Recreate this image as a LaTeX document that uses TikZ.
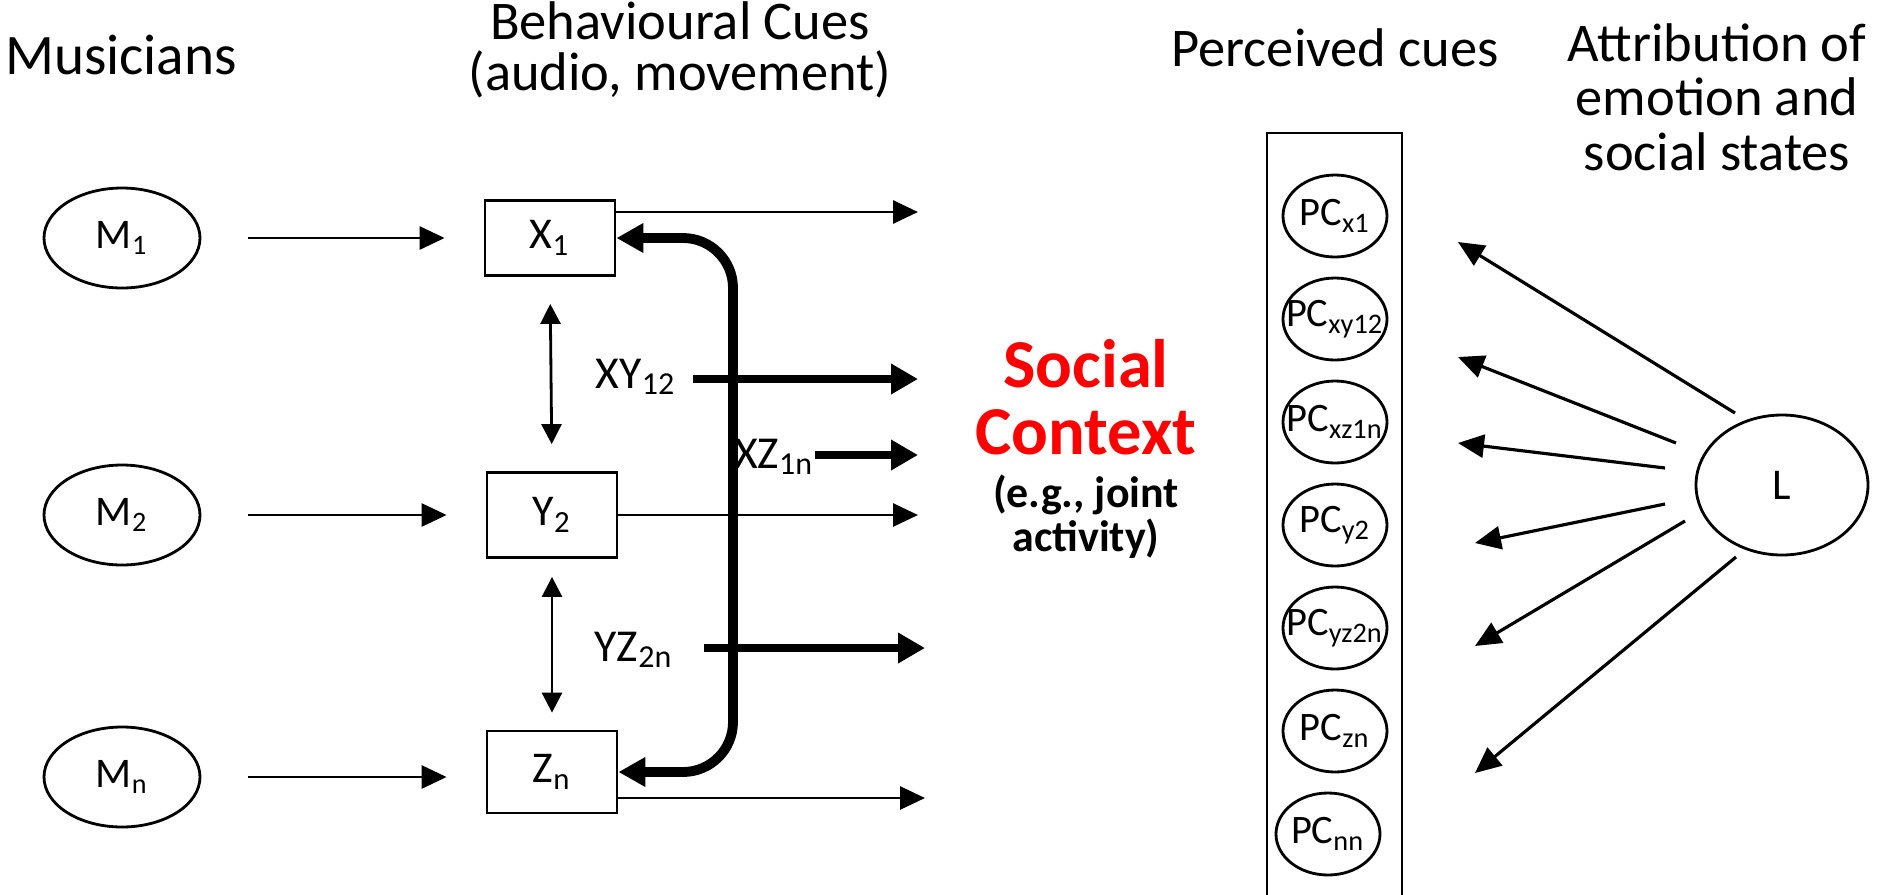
\documentclass[tikz,border=0pt]{standalone}
\usepackage{fontspec}
\setmainfont{Carlito}
\usetikzlibrary{arrows.meta,shapes.geometric,positioning}

\tikzset{
  thinarr/.style={line width=0.8pt,-{Triangle[length=2.5mm,width=2.3mm]}},
  pairarr/.style={line width=2.3pt,-{Triangle[length=2.7mm,width=2.9mm]}},
  linkarr/.style={line width=0.8pt,{Triangle[length=2mm,width=2mm]}-{Triangle[length=2mm,width=2mm]}},
  looparr/.style={line width=2.8pt,rounded corners=5mm,
    {Triangle[length=2.7mm,width=2.8mm]}-{Triangle[length=2.7mm,width=2.8mm]}},
}
\newcommand{\pclabel}[1]{\makebox[0pt]{PC\textsubscript{#1}}}

\begin{document}
\begin{tikzpicture}
		\useasboundingbox (0,0) rectangle (18.81,-8.94);

		% headings
		\begin{scope}[every node/.style={font=\fontsize{15.5}{15.5}\selectfont,align=center}]
		    \node[font=\fontsize{16.3}{16}\selectfont] (musicians) at (1.21,-0.55) {Musicians};
		    \node[font=\fontsize{15.5}{14.5}\selectfont] (cues) at (6.80,-0.50) {Behavioural Cues\\(audio, movement)};
		    \node (perceived) at (13.35,-0.48) {Perceived cues};
		    \node (attribution) at (17.17,-0.97) {Attribution of\\emotion and\\social states};
		\end{scope}

		% musicians
		\begin{scope}[every node/.style={ellipse,draw,line width=0.8pt,minimum width=1.56cm,
		              minimum height=1.00cm,font=\fontsize{12}{14}\selectfont}]
		    \node (M1) at (1.22,-2.38) {M\textsubscript{1}};
		    \node (M2) at (1.22,-5.15) {M\textsubscript{2}};
		    \node (Mn) at (1.22,-7.77) {M\textsubscript{n}};
		\end{scope}

		% behavioural cues
		\begin{scope}[every node/.style={rectangle,draw,line width=0.8pt,minimum width=1.30cm,
		              font=\fontsize{12.5}{14}\selectfont}]
		    \node[minimum height=0.75cm] (X1) at (5.50,-2.38) {X\textsubscript{1}};
		    \node[minimum height=0.85cm] (Y2) at (5.52,-5.15) {Y\textsubscript{2}};
		    \node[minimum height=0.82cm] (Zn) at (5.52,-7.72) {Z\textsubscript{n}};
		\end{scope}

		\begin{scope}[every node/.style={inner sep=0pt,font=\fontsize{13}{14}\selectfont}]
		    \node (xy) at (6.36,-3.77) {XY\textsubscript{12}};
		    \node (xz) at (7.74,-4.57) {XZ\textsubscript{1n}};
		    \node (yz) at (6.34,-6.50) {YZ\textsubscript{2n}};
		\end{scope}

		% social context
		\node[text=red,font=\bfseries\fontsize{19.5}{19}\selectfont,align=center] (social) at (10.86,-3.97) {Social\\Context};
		\node[font=\bfseries\fontsize{12.5}{12.5}\selectfont,align=center] (example) at (10.86,-5.17) {(e.g., joint\\activity)};

		% perceived cues
		\draw[line width=0.8pt] (12.67,-9.5) rectangle (14.02,-1.33);
		\begin{scope}[every node/.style={ellipse,draw,line width=0.8pt,inner sep=0pt,minimum width=1.04cm,
		              minimum height=0.82cm,font=\fontsize{11.5}{13}\selectfont}]
		    \node (PCx1) at (13.35,-2.16) {\pclabel{x1}};
		    \node (PCxy12) at (13.35,-3.19) {\pclabel{xy12}};
		    \node (PCxz1n) at (13.35,-4.22) {\pclabel{xz1n}};
		    \node (PCy2) at (13.35,-5.25) {\pclabel{y2}};
		    \node (PCyz2n) at (13.35,-6.28) {\pclabel{yz2n}};
		    \node (PCzn) at (13.35,-7.31) {\pclabel{zn}};
		    \node (PCnn) at (13.28,-8.34) {\pclabel{nn}};
		\end{scope}

		\node[ellipse,draw,line width=0.8pt,minimum width=1.72cm,minimum height=1.40cm,
		      font=\fontsize{12.5}{14}\selectfont] (L) at (17.82,-4.85) {L};

		% free ends
		\coordinate (outX) at (9.18,-2.12);
		\coordinate (outXY) at (9.18,-3.79);
		\coordinate (outXZ) at (9.18,-4.55);
		\coordinate (outY) at (9.18,-5.15);
		\coordinate (outYZ) at (9.25,-6.48);
		\coordinate (outZ) at (9.25,-7.98);
		\coordinate (spine) at (7.33,-5.00);

		\coordinate (l1) at (17.35,-4.13);
		\coordinate (l2) at (16.76,-4.43);
		\coordinate (l3) at (16.65,-4.68);
		\coordinate (l4) at (16.65,-5.04);
		\coordinate (l5) at (16.85,-5.21);
		\coordinate (l6) at (17.36,-5.57);
		\coordinate (p1) at (14.58,-2.42);
		\coordinate (p2) at (14.58,-3.57);
		\coordinate (p3) at (14.58,-4.43);
		\coordinate (p4) at (14.75,-5.43);
		\coordinate (p5) at (14.75,-6.46);
		\coordinate (p6) at (14.75,-7.73);

		% connectors
		\begin{scope}[thinarr]
		    \draw[shorten <=4.7mm,shorten >=3.9mm] (M1) -- (X1);
		    \draw[shorten <=4.7mm,shorten >=3.9mm] (M2) -- (M2 -| Y2.west);
		    \draw[shorten <=4.7mm,shorten >=3.9mm] (Mn) -- (Mn -| Zn.west);
		    \draw (X1.east |- outX) -- (outX);
		    \draw (Y2.east |- outY) -- (outY);
		    \draw (Zn.east |- outZ) -- (outZ);
		\end{scope}

		\draw[linkarr,shorten <=2.7mm,shorten >=2.7mm] (X1.south) -- (Y2.north);
		\draw[linkarr,shorten <=1.8mm,shorten >=1.7mm] (Y2.south) -- (Zn.north);

		\draw[looparr] (X1.east) -| (spine) |- (Zn.east);

		\begin{scope}[pairarr]
		    \draw[shorten <=1.6mm] (xy.east |- outXY) -- (outXY);
		    \draw (xz.east |- outXZ) -- (outXZ);
		    \draw[shorten <=3mm] (yz.east |- outYZ) -- (outYZ);
		\end{scope}

		\begin{scope}[line width=0.9pt,-{Triangle[length=2.6mm,width=2.3mm]}]
		    \draw (l1) -- (p1);
		    \draw (l2) -- (p2);
		    \draw (l3) -- (p3);
		    \draw (l4) -- (p4);
		    \draw (l5) -- (p5);
		    \draw (l6) -- (p6);
		\end{scope}
\end{tikzpicture}
\end{document}
